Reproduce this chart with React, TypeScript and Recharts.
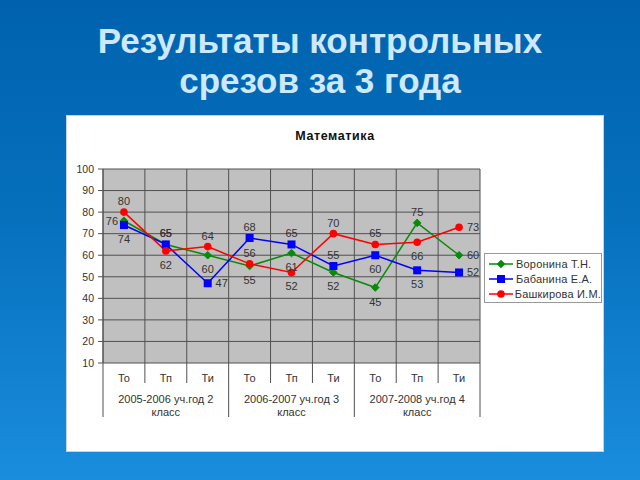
import React from "react";
import {
  LineChart,
  Line,
  XAxis,
  YAxis,
  CartesianGrid,
  Legend,
  LabelList,
} from "recharts";

// данные
const categories = ["То", "Тп", "Ти", "То", "Тп", "Ти", "То", "Тп", "Ти"];
const groupLabels = [
  ["2005-2006 уч.год 2", "класс"],
  ["2006-2007 уч.год 3", "класс"],
  ["2007-2008 уч.год 4", "класс"],
];
const voronina = [76, 65, 60, 55, 61, 52, 45, 75, 60];
const babanina = [74, 65, 47, 68, 65, 55, 60, 53, 52];
const bashkirova = [80, 62, 64, 56, 52, 70, 65, 66, 73];
const yTicks = [10, 20, 30, 40, 50, 60, 70, 80, 90, 100];

// где стоит подпись значения у каждой точки
type Pos = "top" | "bottom" | "left" | "right";
const voroninaPos: Pos[] = ["left", "top", "bottom", "bottom", "bottom", "bottom", "bottom", "top", "right"];
const babaninaPos: Pos[] = ["bottom", "top", "right", "top", "top", "top", "bottom", "bottom", "right"];
const bashkirovaPos: Pos[] = ["top", "bottom", "top", "top", "bottom", "top", "top", "bottom", "right"];

const data = categories.map((c, i) => ({
  cat: c,
  v: voronina[i],
  b: babanina[i],
  s: bashkirova[i],
}));

const FONT = '"Liberation Sans", Arial, sans-serif';
const TEXT = "#333";
const GRID = "#505050";

const W = 640;
const H = 480;
const M = { top: 169, right: 160, bottom: 57, left: 60 };
const Y_W = 43;
const PLOT_W = W - M.left - Y_W - M.right;
const BW = PLOT_W / categories.length;

const series = [
  { key: "v", name: "Воронина Т.Н.", color: "#0a8a0a", shape: "diamond", pos: voroninaPos },
  { key: "b", name: "Бабанина Е.А.", color: "#0000ff", shape: "square", pos: babaninaPos },
  { key: "s", name: "Башкирова И.М.", color: "#ff0000", shape: "circle", pos: bashkirovaPos },
];

function Marker({ cx, cy, shape, color }: any) {
  if (cx == null || cy == null) return null;
  if (shape === "diamond") {
    const r = 3.8;
    return (
      <polygon
        points={`${cx},${cy - r} ${cx + r},${cy} ${cx},${cy + r} ${cx - r},${cy}`}
        fill={color}
        stroke={color}
      />
    );
  }
  if (shape === "square") {
    return <rect x={cx - 4} y={cy - 4} width={8} height={8} fill={color} />;
  }
  return <circle cx={cx} cy={cy} r={3.8} fill={color} />;
}

function makeLabel(pos: Pos[]) {
  return (props: any) => {
    const vb = props.viewBox || {};
    const x = props.x ?? vb.x;
    const y = props.y ?? vb.y;
    const p = pos[props.index] || "top";
    let dx = 0;
    let dy = 0;
    if (p === "top") dy = -11;
    if (p === "bottom") dy = 14;
    if (p === "left") dx = -12;
    if (p === "right") dx = 14;
    return (
      <text
        x={x + dx}
        y={y + dy}
        textAnchor="middle"
        dominantBaseline="central"
        fontSize={11}
        fontFamily={FONT}
        fill={TEXT}
      >
        {props.value}
      </text>
    );
  };
}

function XTick(props: any) {
  const { x, y, payload, index } = props;
  const i = index ?? payload.index;
  const left = x - BW / 2;
  const g = Math.floor(i / 3);
  return (
    <g>
      <text x={x} y={y + 19} textAnchor="middle" fontSize={11} fontFamily={FONT} fill={TEXT}>
        {payload.value}
      </text>
      <line x1={left} y1={y} x2={left} y2={i % 3 === 0 ? y + 54 : y + 20} stroke={GRID} />
      {i === categories.length - 1 && (
        <line x1={x + BW / 2} y1={y} x2={x + BW / 2} y2={y + 54} stroke={GRID} />
      )}
      {i % 3 === 1 && (
        <text textAnchor="middle" fontSize={11} fontFamily={FONT} fill={TEXT}>
          <tspan x={x} y={y + 40}>{groupLabels[g][0]}</tspan>
          <tspan x={x} y={y + 53}>{groupLabels[g][1]}</tspan>
        </text>
      )}
    </g>
  );
}

function LegendBox() {
  return (
    <div
      style={{
        border: "1px solid #999",
        background: "#fff",
        padding: "2px 0 1px 3px",
        fontFamily: FONT,
        fontSize: 11,
        color: TEXT,
        whiteSpace: "nowrap",
      }}
    >
      {series.map((s) => (
        <div key={s.key} style={{ display: "flex", alignItems: "center", height: 15 }}>
          <svg width={26} height={12}>
            <line x1={1} y1={6} x2={25} y2={6} stroke={s.color} strokeWidth={1.5} />
            <Marker cx={13} cy={6} shape={s.shape} color={s.color} />
          </svg>
          <span style={{ marginLeft: 2, letterSpacing: 0.2 }}>{s.name}</span>
        </div>
      ))}
    </div>
  );
}

export default function App() {
  return (
    <div
      style={{
        position: "absolute",
        left: 0,
        top: 0,
        width: W,
        height: H,
        overflow: "hidden",
        background: "linear-gradient(180deg, #0062ae 0%, #0670bd 45%, #1a8ddd 100%)",
        fontFamily: FONT,
      }}
    >
      <div
        style={{
          position: "absolute",
          top: 21,
          left: 0,
          width: W,
          textAlign: "center",
          color: "#cde9ff",
          fontWeight: "bold",
          fontSize: 35,
          lineHeight: "40px",
        }}
      >
        Результаты контрольных
        <br />
        срезов за 3 года
      </div>
      <div
        style={{
          position: "absolute",
          left: 66,
          top: 115,
          width: 538,
          height: 337,
          background: "#fff",
          boxSizing: "border-box",
          border: "1px solid #c8d4e0",
        }}
      />
      <div
        style={{
          position: "absolute",
          left: 0,
          top: 129,
          width: 670,
          textAlign: "center",
          fontWeight: "bold",
          fontSize: 12.5,
          letterSpacing: 0.6,
          color: "#111",
        }}
      >
        Математика
      </div>
      <div style={{ position: "absolute", left: 0, top: 0 }}>
        <LineChart width={W} height={H} data={data} margin={M}>
          <CartesianGrid
            fill="#c0c0c0"
            fillOpacity={1}
            stroke={GRID}
            verticalCoordinatesGenerator={({ offset }: any) =>
              categories.map((_, i) => offset.left + i * (offset.width / categories.length)).concat(
                offset.left + offset.width
              )
            }
          />
          <XAxis
            dataKey="cat"
            interval={0}
            axisLine={false}
            tickLine={false}
            tickSize={0}
            tickMargin={0}
            height={60}
            padding={{ left: BW / 2, right: BW / 2 }}
            tick={<XTick />}
          />
          <YAxis
            domain={[10, 100]}
            ticks={yTicks}
            width={Y_W}
            axisLine={{ stroke: GRID }}
            tickLine={{ stroke: GRID }}
            tickSize={5}
            tickMargin={4}
            tick={{ fontSize: 10.5, fill: TEXT, fontFamily: FONT }}
            interval={0}
          />
          <Legend
            layout="vertical"
            align="center"
            verticalAlign="middle"
            wrapperStyle={{ left: 484, top: 253, width: 118 }}
            content={() => <LegendBox />}
          />
          {series.map((s) => (
            <Line
              key={s.key}
              dataKey={s.key}
              name={s.name}
              type="linear"
              stroke={s.color}
              strokeWidth={1.5}
              isAnimationActive={false}
              dot={(p: any) => <Marker key={`${s.key}-${p.index}`} cx={p.cx} cy={p.cy} shape={s.shape} color={s.color} />}
              activeDot={false}
            >
              <LabelList dataKey={s.key} content={makeLabel(s.pos)} />
            </Line>
          ))}
        </LineChart>
      </div>
    </div>
  );
}
